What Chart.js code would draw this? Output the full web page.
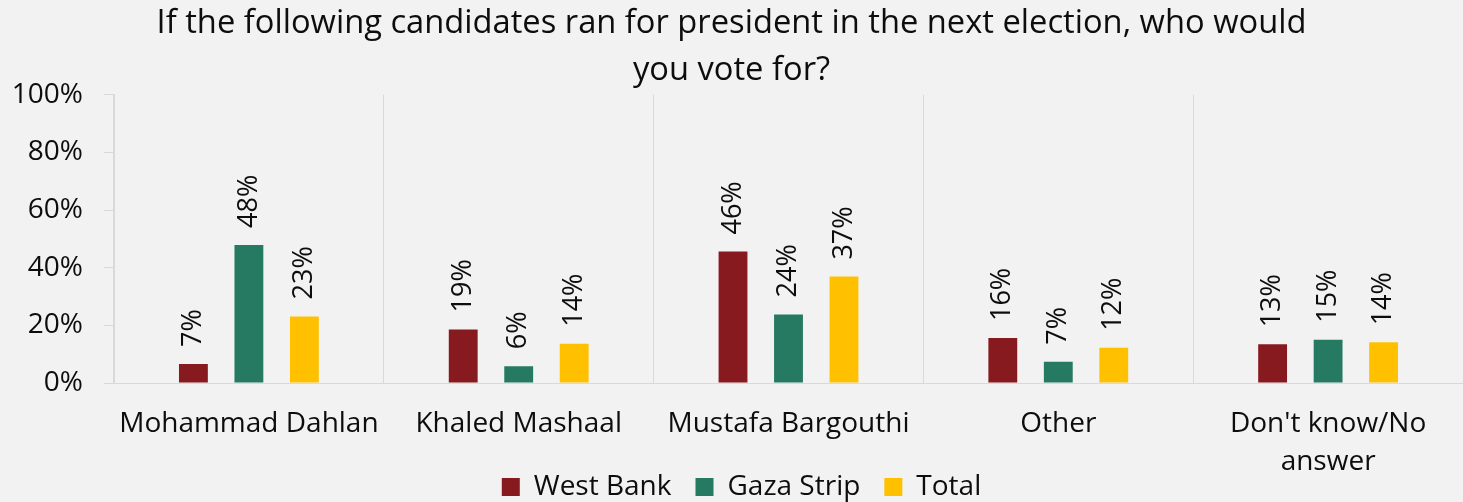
<!DOCTYPE html>
<html>
<head>
<meta charset="utf-8">
<script src="https://cdn.jsdelivr.net/npm/chart.js@4.4.0/dist/chart.umd.min.js"></script>
<style>
  html, body { margin: 0; padding: 0; background: #f2f2f2; }
  #wrap { width: 1463px; height: 502px; }
</style>
</head>
<body>
<div id="wrap"><canvas id="myChart"></canvas></div>
<script>
const titleLines = ['If the following candidates ran for president in the next election, who would', 'you vote for?'];
const categories = ['Mohammad Dahlan', 'Khaled Mashaal', 'Mustafa Bargouthi', 'Other', ["Don't know/No", 'answer']];
const seriesNames = ['West Bank', 'Gaza Strip', 'Total'];
const westBank = [6.6, 18.6, 45.6, 15.6, 13.4];
const gazaStrip = [47.9, 5.8, 23.8, 7.4, 15.0];
const total = [23.1, 13.6, 36.9, 12.2, 14.1];
const yTicks = [0, 20, 40, 60, 80, 100];
const barColors = ['#861a1f', '#267a62', '#ffc000'];

const FONT = "'Open Sans', 'Noto Sans', sans-serif";
const LEGEND_PAD = 24;

// rotated value labels above every bar
const barLabels = {
  id: 'barLabels',
  afterDatasetsDraw(chart) {
    const ctx = chart.ctx;
    ctx.save();
    ctx.font = '27px ' + FONT;
    ctx.fillStyle = '#0d0d0d';
    ctx.textAlign = 'left';
    ctx.textBaseline = 'middle';
    chart.data.datasets.forEach(function (ds, i) {
      const meta = chart.getDatasetMeta(i);
      meta.data.forEach(function (bar, j) {
        ctx.save();
        ctx.translate(bar.x, bar.y - 17);
        ctx.rotate(-Math.PI / 2);
        ctx.fillText(Math.round(ds.data[j]) + '%', 0, 0);
        ctx.restore();
      });
    });
    ctx.restore();
  }
};

// legend sits beside the wrapped x label, so pull it up next to it
const legendShift = {
  id: 'legendShift',
  afterLayout(chart) {
    const lg = chart.legend;
    const h = lg.bottom - lg.top;
    lg.top = 449;
    lg.bottom = lg.top + h;
    lg.left += 10;
    lg.right += 10;
  }
};

const seriesData = [westBank, gazaStrip, total];

new Chart('myChart', {
  type: 'bar',
  data: {
    labels: categories,
    datasets: seriesNames.map(function (name, i) {
      return {
        label: name,
        data: seriesData[i],
        backgroundColor: barColors[i],
        categoryPercentage: 0.617,
        barPercentage: 0.52
      };
    })
  },
  options: {
    responsive: true,
    maintainAspectRatio: false,
    animation: false,
    layout: { padding: { left: 0, right: 0, top: 0, bottom: -39 } },
    plugins: {
      title: {
        display: true,
        text: titleLines,
        color: '#0d0d0d',
        font: { family: FONT, size: 32.7, weight: 'normal', lineHeight: 1.448 },
        padding: { top: 0, bottom: 0 }
      },
      legend: {
        position: 'bottom',
        labels: {
          color: '#0d0d0d',
          font: { family: FONT, size: 28 },
          boxWidth: 18,
          boxHeight: 18,
          padding: LEGEND_PAD
        }
      },
      tooltip: { enabled: false }
    },
    scales: {
      x: {
        grid: {
          offset: true,
          drawOnChartArea: true,
          drawTicks: false,
          color: '#d9d9d9'
        },
        border: { color: '#d9d9d9', width: 1 },
        ticks: {
          color: '#0d0d0d',
          font: { family: FONT, size: 28, lineHeight: 1.36 },
          padding: 22,
          maxRotation: 0,
          autoSkip: false
        },
        afterFit: function (scale) { scale.height = 96; }
      },
      y: {
        min: 0,
        max: 100,
        afterBuildTicks: function (scale) {
          scale.ticks = yTicks.map(function (v) { return { value: v }; });
        },
        grid: {
          drawOnChartArea: false,
          drawTicks: true,
          tickLength: 10,
          color: '#d9d9d9'
        },
        border: { color: '#d9d9d9', width: 1 },
        ticks: {
          color: '#0d0d0d',
          font: { family: FONT, size: 28 },
          padding: 21,
          callback: function (v) { return v + '%'; }
        },
        afterFit: function (scale) { scale.width = 114; }
      }
    }
  },
  plugins: [barLabels, legendShift]
});
</script>
</body>
</html>
